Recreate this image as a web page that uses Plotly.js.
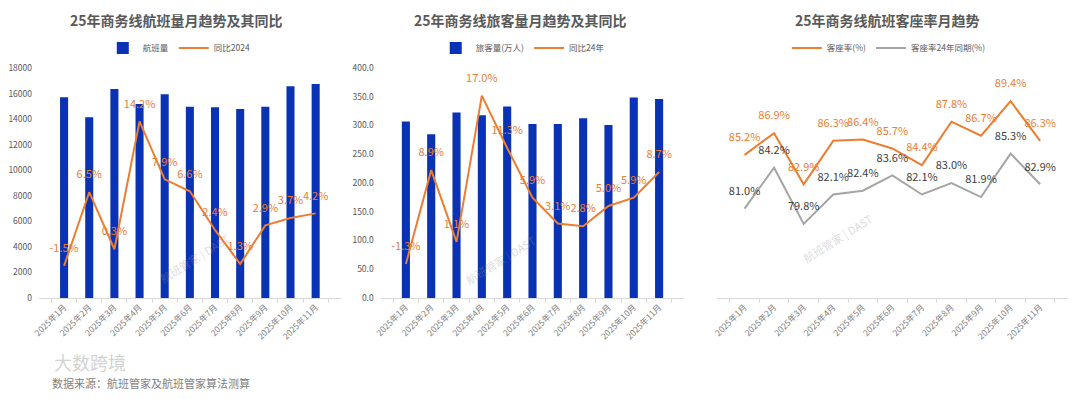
<!DOCTYPE html>
<html>
<head>
<meta charset="utf-8">
<script src="https://cdn.plot.ly/plotly-3.0.1.min.js"></script>
<style>html,body{margin:0;padding:0;background:#fff;}#chart{width:1080px;height:399px;}</style>
</head>
<body>
<div id="chart"></div>
<script>
// ---- data ----
var months = ['2025年1月','2025年2月','2025年3月','2025年4月','2025年5月','2025年6月','2025年7月','2025年8月','2025年9月','2025年10月','2025年11月'];
var flights = [15710, 14140, 16360, 15180, 15950, 14970, 14920, 14790, 14970, 16580, 16740];
var flightsYoY = [-1.5, 6.5, 0.3, 14.2, 7.9, 6.6, 2.4, -1.3, 2.9, 3.7, 4.2];
var flightsYoYLabels = ['-1.5%','6.5%','0.3%','14.2%','7.9%','6.6%','2.4%','1.3%','2.9%','3.7%','4.2%'];
var passengers = [307.0, 284.8, 322.7, 318.0, 333.0, 302.8, 302.8, 312.7, 301.0, 348.9, 345.9];
var passengersYoY = [-1.3, 8.9, 1.1, 17.0, 11.3, 5.9, 3.1, 2.8, 5.0, 5.9, 8.7];
var loadFactor = [85.2, 86.9, 82.9, 86.3, 86.4, 85.7, 84.4, 87.8, 86.7, 89.4, 86.3];
var loadFactor24 = [81.0, 84.2, 79.8, 82.1, 82.4, 83.6, 82.1, 83.0, 81.9, 85.3, 82.9];

function pct(arr){ return arr.map(function(v){ return v.toFixed(1) + '%'; }); }

var BLUE = '#0A32B4', ORANGE = '#ED7D31', GRAY = '#A5A5A5';
var FONT = 'Noto Sans CJK SC, Noto Sans, sans-serif';
var TRANSP = 'rgba(0,0,0,0)';

var traces = [
  {type:'bar', name:'航班量', x:months, y:flights, xaxis:'x', yaxis:'y', marker:{color:BLUE}, legend:'legend'},
  {type:'scatter', mode:'lines+markers+text', name:'同比2024', x:months, y:flightsYoY, xaxis:'x', yaxis:'y2',
   line:{color:ORANGE, width:2}, marker:{size:16, color:TRANSP}, text:flightsYoYLabels, textposition:'top center',
   textfont:{color:ORANGE, size:11}, legend:'legend', cliponaxis:false},
  {type:'bar', name:'旅客量(万人)', x:months, y:passengers, xaxis:'x2', yaxis:'y3', marker:{color:BLUE}, legend:'legend2'},
  {type:'scatter', mode:'lines+markers+text', name:'同比24年', x:months, y:passengersYoY, xaxis:'x2', yaxis:'y4',
   line:{color:ORANGE, width:2}, marker:{size:16, color:TRANSP}, text:pct(passengersYoY), textposition:'top center',
   textfont:{color:ORANGE, size:11}, legend:'legend2', cliponaxis:false},
  {type:'scatter', mode:'lines+markers+text', name:'客座率(%)', x:months, y:loadFactor, xaxis:'x3', yaxis:'y5',
   line:{color:ORANGE, width:2}, marker:{size:16, color:TRANSP}, text:pct(loadFactor), textposition:'top center',
   textfont:{color:ORANGE, size:11}, legend:'legend3', cliponaxis:false},
  {type:'scatter', mode:'lines+markers+text', name:'客座率24年同期(%)', x:months, y:loadFactor24, xaxis:'x3', yaxis:'y5',
   line:{color:GRAY, width:2}, marker:{size:16, color:TRANSP}, text:pct(loadFactor24), textposition:'top center',
   textfont:{color:'#404040', size:11}, legend:'legend3', cliponaxis:false}
];

var yDom = [0.2531, 0.8296];
function xax(dom, anchor){
  return {domain:dom, anchor:anchor, type:'category', tickangle:-45, tickfont:{size:8.5, color:'#7f7f7f'},
    showline:true, linecolor:'#D9D9D9', linewidth:1, ticks:'outside', tickson:'boundaries', ticklen:4, tickcolor:'#D9D9D9',
    showgrid:false, zeroline:false, fixedrange:true};
}
function legendCfg(xc){
  return {orientation:'h', x:xc, xanchor:'center', y:0.8797, yanchor:'middle', font:{size:8.5, color:'#595959', family:FONT},
    bgcolor:TRANSP, itemwidth:30, tracegroupgap:0, itemclick:false};
}
function title(txt, xc){
  return {text:'<b>'+txt+'</b>', x:xc, y:0.95, xref:'paper', yref:'paper', xanchor:'center', yanchor:'middle',
    showarrow:false, font:{size:14, color:'#595959', family:FONT}};
}
function wm(xc, yc){
  return {text:'航班管家 | DAST', x:xc/1080, y:(399-yc)/399, xref:'paper', yref:'paper', showarrow:false,
    textangle:-32, font:{size:11, color:'rgba(150,150,150,0.35)', family:FONT}};
}

var layout = {
  width:1080, height:399, margin:{l:0, r:0, t:0, b:0}, paper_bgcolor:'#fff', plot_bgcolor:'#fff',
  font:{family:FONT, color:'#595959'}, bargap:0.68,
  xaxis: xax([0.0361, 0.3155], 'y'),
  yaxis: {domain:yDom, anchor:'x', range:[0,18000], dtick:2000, tickformat:'d', tickfont:{size:8.5, color:'#595959'}, showgrid:false,
          zeroline:false, showline:false, ticklabelstandoff:6, fixedrange:true},
  yaxis2: {overlaying:'y', anchor:'x', range:[-5,20], visible:false, fixedrange:true},
  xaxis2: xax([0.3525, 0.6336], 'y3'),
  yaxis3: {domain:yDom, anchor:'x2', range:[0,400], dtick:50, tickformat:'.1f', tickfont:{size:8.5, color:'#595959'},
           showgrid:false, zeroline:false, showline:false, ticklabelstandoff:6, fixedrange:true},
  yaxis4: {overlaying:'y3', anchor:'x2', range:[-5,20], visible:false, fixedrange:true},
  xaxis3: xax([0.6639, 0.9886], 'y5'),
  yaxis5: {domain:yDom, anchor:'x3', range:[74,92], visible:false, fixedrange:true},
  legend: legendCfg(0.166),
  legend2: legendCfg(0.484),
  legend3: legendCfg(0.823),
  annotations: [
    title('25年商务线航班量月趋势及其同比', 0.1636),
    title('25年商务线旅客量月趋势及其同比', 0.482),
    title('25年商务线航班客座率月趋势', 0.8218),
    wm(154, 258), wm(500, 260), wm(878, 238),
    {text:'数据来源：航班管家及航班管家算法测算', x:50/1080, y:(399-383)/399, xref:'paper', yref:'paper', xanchor:'left', yanchor:'middle',
     showarrow:false, font:{size:11, color:'#7f7f7f', family:FONT}},
    {text:'大数跨境', x:52/1080, y:(399-362)/399, xref:'paper', yref:'paper', xanchor:'left', yanchor:'middle',
     showarrow:false, font:{size:18, color:'rgba(190,190,190,0.7)', family:FONT}}
  ]
};

Plotly.newPlot('chart', traces, layout, {displayModeBar:false, staticPlot:true});
</script>
</body>
</html>
